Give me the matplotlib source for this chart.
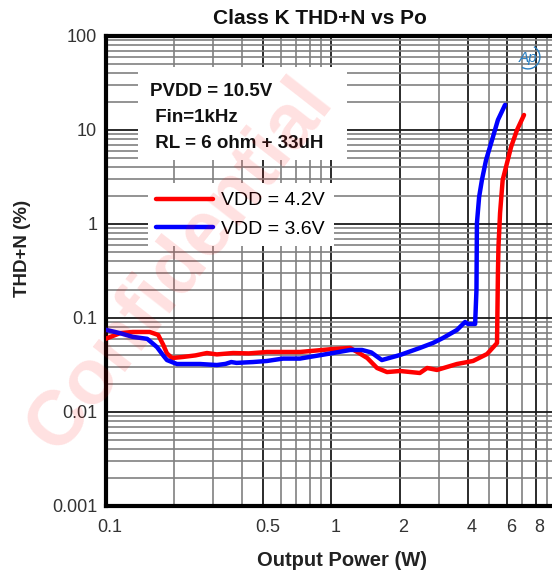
import matplotlib
matplotlib.use("Agg")
import matplotlib.pyplot as plt
import matplotlib.transforms as mtransforms
from matplotlib.patches import Rectangle, Arc
from matplotlib.ticker import FixedLocator, NullFormatter

plt.rcParams.update({
    "font.family": ["Liberation Sans", "DejaVu Sans"],
    "figure.dpi": 100,
})

# ---- data (Output Power in W, THD+N in %) ----
red_p = [0.100, 0.116, 0.132, 0.157, 0.171, 0.180, 0.187, 0.197, 0.220, 0.250,
         0.281, 0.311, 0.367, 0.430, 0.518, 0.725, 1.015, 1.21, 1.30, 1.44,
         1.59, 1.76, 2.01, 2.46, 2.65, 2.93, 3.59, 4.23, 4.88, 5.40,
         5.45, 5.48, 5.57, 5.72, 5.98, 6.23, 6.62, 7.11]
red_thd = [0.060, 0.069, 0.071, 0.071, 0.066, 0.052, 0.042, 0.0375, 0.0385, 0.040,
           0.0424, 0.041, 0.0424, 0.042, 0.0435, 0.0435, 0.0468, 0.048, 0.0435, 0.0375,
           0.0294, 0.0266, 0.0273, 0.026, 0.0294, 0.028, 0.0324, 0.0349, 0.0414, 0.0542,
           0.30, 0.57, 1.31, 2.94, 4.46, 6.59, 10.0, 14.45]

blue_p = [0.100, 0.116, 0.132, 0.153, 0.169, 0.180, 0.187, 0.207, 0.262, 0.311,
          0.340, 0.360, 0.380, 0.450, 0.518, 0.610, 0.725, 1.015, 1.21, 1.365,
          1.50, 1.67, 2.01, 2.46, 2.81, 3.11, 3.59, 3.90, 4.02, 4.32,
          4.38, 4.40, 4.50, 4.63, 4.83, 5.18, 5.45, 5.86]
blue_thd = [0.075, 0.069, 0.063, 0.060, 0.049, 0.040, 0.0357, 0.0324, 0.0324, 0.0316,
            0.0325, 0.0340, 0.0333, 0.0340, 0.0349, 0.0370, 0.0370, 0.0424, 0.0457, 0.0457,
            0.0430, 0.0357, 0.0404, 0.048, 0.0542, 0.0612, 0.0746, 0.0907, 0.0864, 0.0864,
            0.20, 1.02, 1.94, 2.94, 4.80, 8.43, 12.8, 18.5]

series_labels = ["VDD = 4.2V", "VDD = 3.6V"]
conditions = ["PVDD = 10.5V", " Fin=1kHz", " RL = 6 ohm + 33uH"]

x_major = [0.1, 0.5, 1, 2, 4, 6, 8]
x_major_labels = ["0.1", "0.5", "1", "2", "4", "6", "8"]
y_major = [0.001, 0.01, 0.1, 1, 10, 100]
y_major_labels = ["0.001", "0.01", "0.1", "1", "10", "100"]

RED, BLUE = "#ff0000", "#0000ff"
DARK, GREY = "#1a1a1a", "#808080"

fig = plt.figure(figsize=(5.52, 5.75))
W, H = 552, 575
ax = fig.add_axes([105.5 / W, 69 / H, 452 / W, 470 / H])
ax.set_xscale("log")
ax.set_yscale("log")
ax.set_xlim(0.1, 10)
ax.set_ylim(0.001, 100)

# grid: dark lines at labelled values, grey in between
x_minor = [k * 10.0 ** e for e in (-1, 0) for k in range(1, 10)
           if round(k * 10.0 ** e, 3) not in x_major]
y_minor = [k * 10.0 ** e for e in range(-3, 2) for k in range(2, 10)]
ax.xaxis.set_major_locator(FixedLocator(x_major))
ax.xaxis.set_minor_locator(FixedLocator(x_minor))
ax.yaxis.set_major_locator(FixedLocator(y_major))
ax.yaxis.set_minor_locator(FixedLocator(y_minor))
ax.set_xticklabels(x_major_labels)
ax.set_yticklabels(y_major_labels)
ax.xaxis.set_minor_formatter(NullFormatter())
ax.yaxis.set_minor_formatter(NullFormatter())
ax.grid(which="minor", color=GREY, lw=1.2, zorder=0)
ax.grid(which="major", color=DARK, lw=1.3, zorder=0)
ax.set_axisbelow(True)
ax.tick_params(which="both", length=0, labelsize=13, colors="#333333")
ax.tick_params(axis="x", pad=9)
ax.tick_params(axis="y", pad=6)
shift = mtransforms.ScaledTranslation(4 / 100, 0, fig.dpi_scale_trans)
for lab in ax.get_xticklabels():
    lab.set_transform(lab.get_transform() + shift)

for s in ("left", "top", "bottom"):
    ax.spines[s].set_linewidth(3)
    ax.spines[s].set_color("black")
ax.spines["right"].set_visible(False)

ax.plot(red_p, red_thd, color=RED, lw=3.2, label=series_labels[0], zorder=3,
        solid_joinstyle="round", solid_capstyle="round")
ax.plot(blue_p, blue_thd, color=BLUE, lw=3.2, label=series_labels[1], zorder=3,
        solid_joinstyle="round", solid_capstyle="round")

# conditions box
ax.add_patch(Rectangle((32.5 / 452, 346 / 470), 209 / 452, 93 / 470,
                       transform=ax.transAxes, facecolor="white",
                       edgecolor="none", zorder=2))
for i, line in enumerate(conditions):
    ax.text(44.5 / 452, (506 - 96 - 26 * i) / 470, line, transform=ax.transAxes,
            fontsize=13.5, weight="bold", color="#111111", va="baseline", zorder=4)

leg = ax.legend(loc="upper left", bbox_to_anchor=(42 / 452, 323 / 470),
                frameon=True, fancybox=False, fontsize=14, handlelength=2.9,
                handletextpad=0.45, labelspacing=0.55, borderpad=0.45,
                borderaxespad=0)
leg.get_frame().set_edgecolor("none")
leg.get_frame().set_facecolor("white")
leg.get_frame().set_alpha(1)
leg.set_zorder(5)
for h in leg.get_lines():
    h.set_linewidth(3.2)

fig.text(320 / W, 1 - 18 / H, "Class K THD+N vs Po", ha="center", va="center",
         fontsize=15, weight="bold", color="#111111")
fig.text(342 / W, 1 - 560 / H, "Output Power (W)", ha="center", va="center",
         fontsize=14.5, weight="bold", color="#222222")
fig.text(23 / W, 1 - 248 / H, "THD+N (%)", ha="center", va="center",
         rotation=90, fontsize=13.5, weight="bold", color="#222222")

# small instrument logo, top right
fig.text(528 / W, 1 - 58 / H, "Ap", ha="center", va="center", fontsize=11,
         style="italic", color="#2a7fc1", zorder=6)
logo_ax = fig.add_axes([514 / W, 1 - 71 / H, 28 / W, 28 / H])
logo_ax.set_axis_off()
logo_ax.set_xlim(-1, 1)
logo_ax.set_ylim(-1, 1)
logo_ax.add_patch(Arc((0, 0), 1.7, 1.7, theta1=-120, theta2=60, color="#2a7fc1", lw=1))

# diagonal watermark
fig.text(180 / W, 1 - 265 / H, "Confidential", ha="center", va="center",
         rotation=52, fontsize=56, weight="bold", color="#ff0000", alpha=0.12,
         zorder=10)

fig.savefig("out.png", dpi=100)
